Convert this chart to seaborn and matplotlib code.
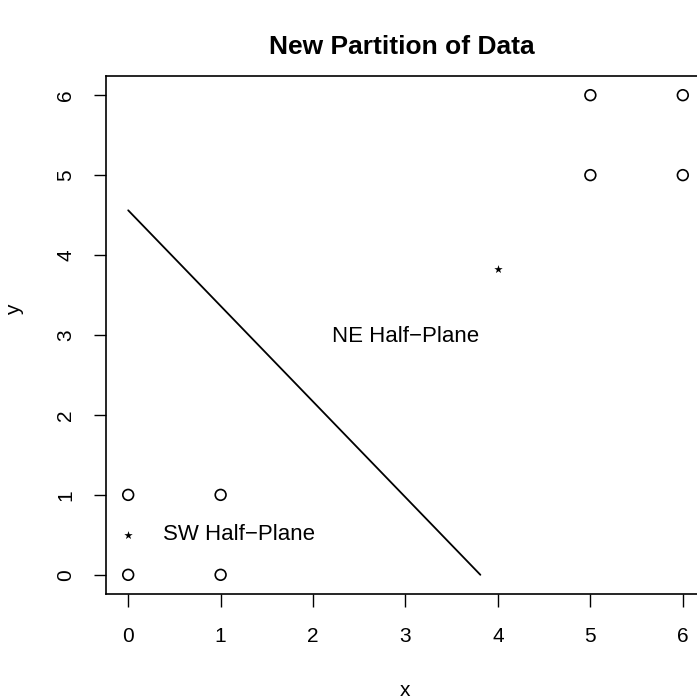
import matplotlib
matplotlib.use("Agg")
import matplotlib.pyplot as plt
import pandas as pd
import seaborn as sns

# data points (circles), centroids (stars) and the separating line
circle_x = [0, 0, 1, 1, 5, 5, 6, 6]
circle_y = [0, 1, 0, 1, 5, 6, 5, 6]
star_x = [0, 4]
star_y = [0.5, 3.82]
line_x = [0, 3.81]
line_y = [4.56, 0]
ticks = [0, 1, 2, 3, 4, 5, 6]
title = "New Partition of Data"
labels = ["NE Half\u2212Plane", "SW Half\u2212Plane"]
label_x = [3.0, 1.2]
label_y = [2.98, 0.5]

sns.set_style("ticks")
plt.rcParams["font.family"] = ["Liberation Sans", "DejaVu Sans"]
plt.rcParams["text.color"] = "black"
plt.rcParams["axes.labelcolor"] = "black"

circles = pd.DataFrame({"x": circle_x, "y": circle_y})
stars = pd.DataFrame({"x": star_x, "y": star_y})
line = pd.DataFrame({"x": line_x, "y": line_y})

fig = plt.figure(figsize=(6.97, 7.0), dpi=100)
ax = fig.add_axes([106 / 697, 106 / 700, 599 / 697, 518 / 700])

sns.scatterplot(data=circles, x="x", y="y", ax=ax, marker="o", s=60,
                facecolor="none", edgecolor="black", linewidth=1.2)
sns.scatterplot(data=stars, x="x", y="y", ax=ax, marker="*", s=40,
                color="black", linewidth=0)
sns.lineplot(data=line, x="x", y="y", ax=ax, color="black", linewidth=1.3,
             sort=False)

for txt, tx, ty in zip(labels, label_x, label_y):
    ax.text(tx, ty, txt, ha="center", va="center", fontsize=16, color="black")

ax.set_xlim(-0.24, 6.24)
ax.set_ylim(-0.24, 6.24)
ax.set_xticks(ticks)
ax.set_yticks(ticks)
ax.tick_params(axis="both", direction="out", length=9, width=1.0,
               labelsize=15, color="black", labelcolor="black")
ax.tick_params(axis="x", pad=15)
ax.tick_params(axis="y", pad=13)
for lab in ax.get_yticklabels():
    lab.set_rotation(90)
    lab.set_va("center")

for sp in ax.spines.values():
    sp.set_color("black")
    sp.set_linewidth(1.2)

ax.set_xlabel("x", fontsize=15, va="center")
ax.set_ylabel("y", fontsize=15, va="center")
ax.xaxis.set_label_coords((405 - 106) / 599, -(690 - 594) / 518)
ax.yaxis.set_label_coords(-(106 - 15) / 599, (594 - 310) / 518)
fig.text(402 / 697, 1 - 47 / 700, title, ha="center", va="center",
         fontsize=19, fontweight="bold", color="black")

fig.savefig("out.png", dpi=100, facecolor="w")
plt.close()
